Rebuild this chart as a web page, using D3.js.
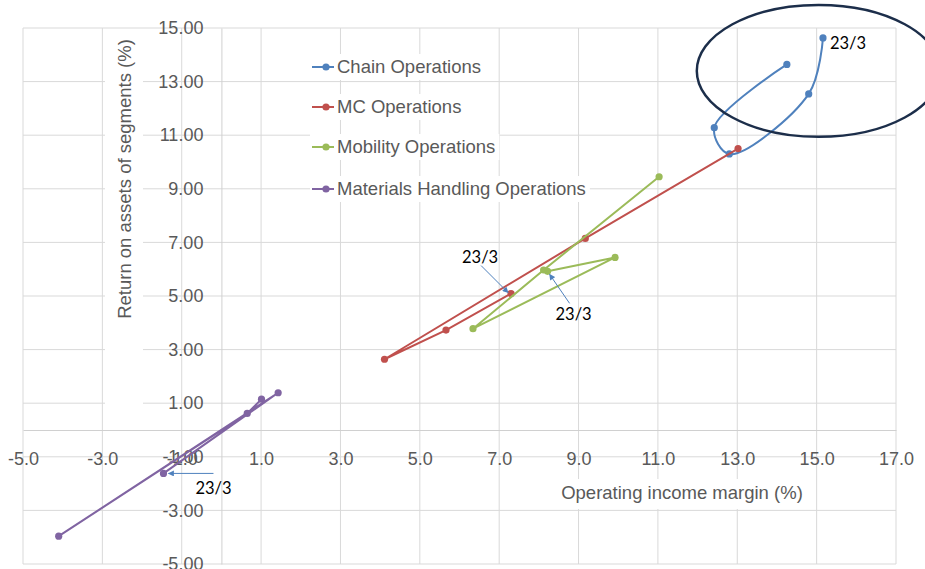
<!DOCTYPE html>
<html>
<head>
<meta charset="utf-8">
<script src="https://cdn.jsdelivr.net/npm/d3@7"></script>
<style>
  body { margin: 0; background: #fff; }
  svg { display: block; }
</style>
</head>
<body>
<div id="chart"></div>
<script>
// fiscal periods (year / month of fiscal year end)
const periods = ["19/3", "20/3", "21/3", "22/3", "23/3"];

// operating income margin (%) and return on assets (%) per segment
const chainX = [14.25, 12.42, 12.80, 14.80, 15.16];
const chainY = [13.64, 11.28, 10.30, 12.54, 14.63];
const mcX = [13.02, 9.17, 4.11, 5.66, 7.30];
const mcY = [10.50, 7.15, 2.64, 3.73, 5.09];
const mobilityX = [11.03, 8.12, 6.34, 9.92, 8.22];
const mobilityY = [9.45, 5.97, 3.78, 6.44, 5.92];
const mhX = [1.01, 0.65, -4.10, 1.43, -1.46];
const mhY = [1.15, 0.62, -3.96, 1.39, -1.62];

const seriesNames = ["Chain Operations", "MC Operations", "Mobility Operations", "Materials Handling Operations"];
const xTicks = [-5, -3, -1, 1, 3, 5, 7, 9, 11, 13, 15, 17];
const yTicks = [-5, -3, -1, 1, 3, 5, 7, 9, 11, 13, 15];

const WIDTH = 925, HEIGHT = 569;
const colors = ["#4F81BD", "#C0504D", "#9BBB59", "#8064A2"];
const FONT = "'Liberation Sans', Arial, sans-serif";
const TEXT = "#595959";
const GRID = "#D9D9D9";

const series = [
    { name: seriesNames[0], xs: chainX, ys: chainY, smooth: true },
    { name: seriesNames[1], xs: mcX, ys: mcY, smooth: false },
    { name: seriesNames[2], xs: mobilityX, ys: mobilityY, smooth: false },
    { name: seriesNames[3], xs: mhX, ys: mhY, smooth: false }
].map((s, i) => ({
    ...s,
    color: colors[i],
    points: s.xs.map((v, j) => ({ x: v, y: s.ys[j], period: periods[j] }))
}));

const x = d3.scaleLinear().domain([-5, 17]).range([23, 896]);
const y = d3.scaleLinear().domain([-5, 15]).range([564, 28]);

const loc = d3.formatLocale({ decimal: ".", thousands: ",", grouping: [3], currency: ["", ""], minus: "-" });

const svg = d3.select("#chart").append("svg")
    .attr("width", WIDTH)
    .attr("height", HEIGHT)
    .style("font-family", FONT);

svg.append("defs").append("marker")
    .attr("id", "arrow")
    .attr("viewBox", "0 0 10 10")
    .attr("refX", 9).attr("refY", 5)
    .attr("markerWidth", 7).attr("markerHeight", 6)
    .attr("markerUnits", "userSpaceOnUse")
    .attr("orient", "auto")
    .append("path")
    .attr("d", "M0,0L10,5L0,10z")
    .attr("fill", "#4F81BD");

// gridlines
const grid = svg.append("g");
grid.selectAll("line.v").data(xTicks).enter().append("line")
    .attr("x1", d => x(d)).attr("x2", d => x(d))
    .attr("y1", y(15)).attr("y2", y(-5))
    .attr("stroke", GRID).attr("stroke-width", 1);
grid.selectAll("line.h").data(yTicks).enter().append("line")
    .attr("x1", x(-5)).attr("x2", x(17))
    .attr("y1", d => y(d)).attr("y2", d => y(d))
    .attr("stroke", GRID).attr("stroke-width", 1);

// axes crossing at 0,0
const xAxis = svg.append("g")
    .attr("transform", `translate(0,${y(0)})`)
    .call(d3.axisBottom(x).tickValues(xTicks).tickFormat(loc.format(".1f")).tickSize(0).tickPadding(22));
const yAxis = svg.append("g")
    .attr("transform", `translate(${x(0)},0)`)
    .call(d3.axisLeft(y).tickValues(yTicks).tickFormat(loc.format(".2f")).tickSize(0).tickPadding(18));
[xAxis, yAxis].forEach(a => {
    a.select(".domain").attr("stroke", "#D0D0D0");
    a.selectAll("text").attr("fill", TEXT).style("font-size", "18px").style("font-family", FONT);
});

// axis titles with white boxes
svg.append("rect").attr("x", 105).attr("y", 32).attr("width", 38).attr("height", 388).attr("fill", "#fff");
svg.append("text")
    .attr("transform", "translate(125,179) rotate(-90)")
    .attr("text-anchor", "middle")
    .attr("dy", "0.35em")
    .attr("fill", TEXT)
    .style("font-size", "18.5px")
    .text("Return on assets of segments (%)");

svg.append("rect").attr("x", 548).attr("y", 479).attr("width", 262).attr("height", 30).attr("fill", "#fff");
svg.append("text")
    .attr("x", 682).attr("y", 493)
    .attr("text-anchor", "middle")
    .attr("dy", "0.35em")
    .attr("fill", TEXT)
    .style("font-size", "18.5px")
    .text("Operating income margin (%)");

// series lines and markers
const line = d3.line().x(d => x(d.x)).y(d => y(d.y));
const plot = svg.append("g");
series.forEach(s => {
    plot.append("path")
        .datum(s.points)
        .attr("d", line.curve(s.smooth ? d3.curveCatmullRom.alpha(0.5) : d3.curveLinear))
        .attr("fill", "none")
        .attr("stroke", s.color)
        .attr("stroke-width", 2);
    plot.selectAll(null).data(s.points).enter().append("circle")
        .attr("cx", d => x(d.x)).attr("cy", d => y(d.y))
        .attr("r", 3.6)
        .attr("fill", s.color);
});

// legend
const legendRows = [67, 107, 147, 189];
const legend = svg.append("g");
series.forEach((s, i) => {
    const row = legend.append("g").attr("transform", `translate(0,${legendRows[i]})`);
    const label = row.append("text")
        .attr("x", 337).attr("y", 0)
        .attr("dy", "0.35em")
        .attr("fill", TEXT)
        .style("font-size", "18.5px")
        .text(s.name);
    const w = label.node().getComputedTextLength();
    row.insert("rect", "text")
        .attr("x", 310).attr("y", -13)
        .attr("width", w + 31).attr("height", 26)
        .attr("fill", "#fff");
    row.append("line")
        .attr("x1", 312).attr("x2", 334)
        .attr("stroke", s.color).attr("stroke-width", 2);
    row.append("circle").attr("cx", 326).attr("r", 3.6).attr("fill", s.color);
});

// highlight ellipse around Chain Operations
svg.append("ellipse")
    .attr("cx", x(15.05)).attr("cy", y(13.4))
    .attr("rx", x(3.07) - x(0)).attr("ry", y(0) - y(2.46))
    .attr("fill", "none")
    .attr("stroke", "#1C2E4A")
    .attr("stroke-width", 2.5);

// "23/3" call-outs: [series index, text dx, text dy, arrow start dx, dy, arrow end dx, dy]
const notes = [
    [0, 25, 5, null],
    [1, -31, -36, [-30, -28, -3, -1]],
    [2, 26, 43, [22, 32, 2, 3]],
    [3, 50, 15, [50, 0, 5, 0]]
];
const ann = svg.append("g");
notes.forEach(([si, tdx, tdy, arr]) => {
    const p = series[si].points[periods.length - 1];
    const px = x(p.x), py = y(p.y);
    if (arr) {
        ann.append("line")
            .attr("x1", px + arr[0]).attr("y1", py + arr[1])
            .attr("x2", px + arr[2]).attr("y2", py + arr[3])
            .attr("stroke", "#4F81BD").attr("stroke-width", 1)
            .attr("marker-end", "url(#arrow)");
    }
    ann.append("text")
        .attr("x", px + tdx).attr("y", py + tdy)
        .attr("text-anchor", "middle")
        .attr("dy", "0.35em")
        .attr("fill", "#000")
        .style("font-family", "Lato, 'Open Sans', sans-serif")
        .style("font-size", "16.5px")
        .text(p.period);
});
</script>
</body>
</html>
